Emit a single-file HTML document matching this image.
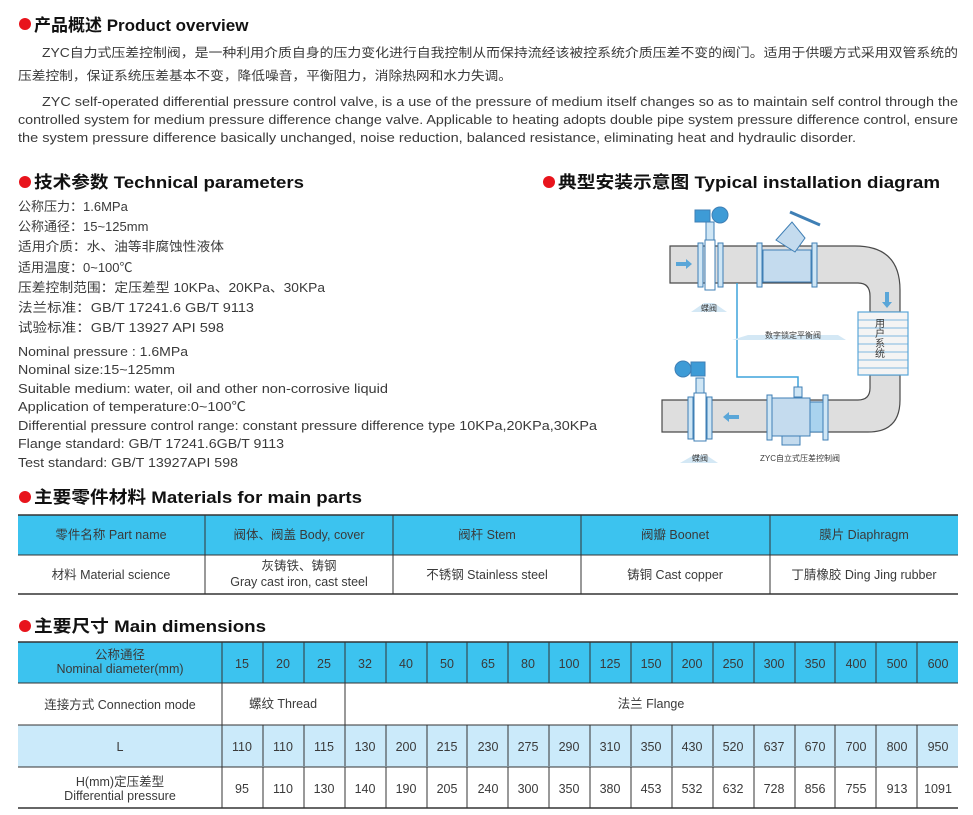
<!DOCTYPE html>
<html><head><meta charset="utf-8"><style>
html,body{margin:0;padding:0;background:#fff;}
svg{display:block;}
text{font-family:"Liberation Sans","Noto Sans CJK SC",sans-serif;fill:#3a3a3a;}
.h{font-weight:bold;font-size:17px;fill:#111;}
.p{font-size:12.5px;}
.t{font-size:13px;}
.c{font-size:12.5px;text-anchor:middle;}
</style></head><body>
<svg width="973" height="815" viewBox="0 0 973 815" xmlns="http://www.w3.org/2000/svg">
<!-- headings -->
<circle cx="25" cy="24" r="6" fill="#e8141c"/>
<text class="h" x="34" y="31">产品概述 Product overview</text>
<text class="p" x="42" y="57" textLength="916" lengthAdjust="spacingAndGlyphs">ZYC自力式压差控制阀，是一种利用介质自身的压力变化进行自我控制从而保持流经该被控系统介质压差不变的阀门。适用于供暖方式采用双管系统的</text>
<text class="p" x="18" y="80" textLength="494" lengthAdjust="spacingAndGlyphs">压差控制，保证系统压差基本不变，降低噪音，平衡阻力，消除热网和水力失调。</text>
<text class="p" x="42" y="106" textLength="916" lengthAdjust="spacingAndGlyphs">ZYC self-operated differential pressure control valve, is a use of the pressure of medium itself changes so as to maintain self control through the</text>
<text class="p" x="18" y="124" textLength="940" lengthAdjust="spacingAndGlyphs">controlled system for medium pressure difference change valve. Applicable to heating adopts double pipe system pressure difference control, ensure</text>
<text class="p" x="18" y="142" textLength="838" lengthAdjust="spacingAndGlyphs">the system pressure difference basically unchanged, noise reduction, balanced resistance, eliminating heat and hydraulic disorder.</text>

<circle cx="25" cy="182" r="6" fill="#e8141c"/>
<text class="h" x="34" y="188" textLength="270" lengthAdjust="spacingAndGlyphs">技术参数 Technical parameters</text>
<circle cx="549" cy="182" r="6" fill="#e8141c"/>
<text class="h" x="558" y="188" textLength="382" lengthAdjust="spacingAndGlyphs">典型安装示意图 Typical installation diagram</text>

<g class="t">
<text class="t" x="18" y="211">公称压力：1.6MPa</text>
<text class="t" x="18" y="231">公称通径：15~125mm</text>
<text class="t" x="18" y="251" textLength="206" lengthAdjust="spacingAndGlyphs">适用介质：水、油等非腐蚀性液体</text>
<text class="t" x="18" y="272">适用温度：0~100℃</text>
<text class="t" x="18" y="292" textLength="307" lengthAdjust="spacingAndGlyphs">压差控制范围：定压差型  10KPa、20KPa、30KPa</text>
<text class="t" x="18" y="312" textLength="236" lengthAdjust="spacingAndGlyphs">法兰标准：GB/T 17241.6    GB/T 9113</text>
<text class="t" x="18" y="332" textLength="206" lengthAdjust="spacingAndGlyphs">试验标准：GB/T 13927    API 598</text>
<text class="t" x="18" y="356" textLength="170" lengthAdjust="spacingAndGlyphs">Nominal pressure : 1.6MPa</text>
<text class="t" x="18" y="374" textLength="157" lengthAdjust="spacingAndGlyphs">Nominal size:15~125mm</text>
<text class="t" x="18" y="393" textLength="370" lengthAdjust="spacingAndGlyphs">Suitable medium: water, oil and other non-corrosive liquid</text>
<text class="t" x="18" y="411" textLength="228" lengthAdjust="spacingAndGlyphs">Application of temperature:0~100℃</text>
<text class="t" x="18" y="430" textLength="579" lengthAdjust="spacingAndGlyphs">Differential pressure control range: constant pressure difference type 10KPa,20KPa,30KPa</text>
<text class="t" x="18" y="448" textLength="266" lengthAdjust="spacingAndGlyphs">Flange standard: GB/T 17241.6GB/T 9113</text>
<text class="t" x="18" y="467" textLength="220" lengthAdjust="spacingAndGlyphs">Test standard: GB/T 13927API 598</text>
</g>

<!-- diagram -->
<g stroke="#4a4a4a" stroke-width="1.2">
<path d="M670 246 H855 Q900 246 900 290 V312 H870 V296 Q870 283 858 283 H670 Z" fill="#dedede"/>
<path d="M870 375 H900 V400 Q900 432 868 432 H662 V400 H858 Q870 400 870 388 Z" fill="#dedede"/>
<rect x="858" y="312" width="50" height="63" fill="#f4f4f4" stroke="#5aa6d8"/>
</g>
<g stroke="#5aa6d8" stroke-width="0.8">
<line x1="858" y1="320" x2="908" y2="320"/><line x1="858" y1="328" x2="908" y2="328"/>
<line x1="858" y1="336" x2="908" y2="336"/><line x1="858" y1="344" x2="908" y2="344"/>
<line x1="858" y1="352" x2="908" y2="352"/><line x1="858" y1="360" x2="908" y2="360"/>
<line x1="858" y1="368" x2="908" y2="368"/>
</g>
<text x="878" y="318" font-size="10" style="writing-mode:tb" fill="#333">用户系统</text>
<path d="M737 283 V377 H798 V396" fill="none" stroke="#3fa3dc" stroke-width="1.5"/>
<!-- top butterfly -->
<g fill="#cfe6f5" stroke="#3f7fb5">
<rect x="698" y="243" width="5" height="44"/><rect x="718" y="243" width="5" height="44"/>
<rect x="705" y="240" width="10" height="50" fill="#fff"/>
<rect x="706" y="222" width="8" height="18"/>
<rect x="695" y="210" width="15" height="12" fill="#3e9bd6"/>
<circle cx="720" cy="215" r="8" fill="#3e9bd6"/>
<!-- balancing valve -->
<rect x="757" y="243" width="5" height="44"/><rect x="812" y="243" width="5" height="44"/>
<path d="M763 250 H811 V282 H763 Z" fill="#c4dbee"/>
<path d="M776 240 L792 222 L805 238 L795 252 Z" fill="#c4dbee"/>
<line x1="790" y1="212" x2="820" y2="225" stroke-width="3"/>
<!-- bottom butterfly -->
<rect x="688" y="397" width="5" height="42"/><rect x="707" y="397" width="5" height="42"/>
<rect x="694" y="393" width="12" height="48" fill="#fff"/>
<rect x="696" y="378" width="8" height="15"/>
<circle cx="683" cy="369" r="8" fill="#3e9bd6"/>
<rect x="691" y="362" width="14" height="14" fill="#3e9bd6"/>
<!-- ZYC valve -->
<rect x="767" y="395" width="5" height="45"/><rect x="823" y="395" width="5" height="45"/>
<rect x="772" y="398" width="38" height="38" fill="#c4dbee"/>
<rect x="810" y="402" width="13" height="30" fill="#a9d3ee"/>
<rect x="782" y="436" width="18" height="9" fill="#c4dbee"/>
<rect x="794" y="387" width="8" height="10"/>
</g>
<path d="M676 262 h10 v-3 l6 5 l-6 5 v-3 h-10z" fill="#5aa6d8"/>
<path d="M885 292 v10 h-3 l5 6 l5 -6 h-3 v-10z" fill="#5aa6d8"/>
<path d="M739 415 h-10 v-3 l-6 5 l6 5 v-3 h10z" fill="#5aa6d8"/>
<g fill="#d4e8f5"><path d="M691 312 L704 303 H714 L727 312 Z"/><path d="M732 340 L748 335 H838 L846 340 Z"/><path d="M680 463 L694 455 H706 L718 463 Z"/></g>
<text x="709" y="311" font-size="8" text-anchor="middle" fill="#444">蝶阀</text>
<text x="793" y="338" font-size="8" text-anchor="middle" fill="#444">数字锁定平衡阀</text>
<text x="700" y="461" font-size="8" text-anchor="middle" fill="#444">蝶阀</text>
<text x="800" y="461" font-size="8" text-anchor="middle" fill="#444">ZYC自立式压差控制阀</text>

<!-- materials -->
<circle cx="25" cy="497" r="6" fill="#e8141c"/>
<text class="h" x="34" y="503" textLength="328" lengthAdjust="spacingAndGlyphs">主要零件材料 Materials for main parts</text>
<rect x="18" y="515" width="940" height="40" fill="#3cc3ef"/>
<g stroke="#333" stroke-width="1">
<line x1="18" y1="515" x2="958" y2="515" stroke-width="1.5"/>
<line x1="18" y1="555" x2="958" y2="555"/>
<line x1="18" y1="594" x2="958" y2="594" stroke-width="1.5"/>
<line x1="205" y1="515" x2="205" y2="594"/><line x1="393" y1="515" x2="393" y2="594"/>
<line x1="581" y1="515" x2="581" y2="594"/><line x1="770" y1="515" x2="770" y2="594"/>
</g>
<text class="c" x="111" y="539">零件名称 Part name</text>
<text class="c" x="299" y="539">阀体、阀盖 Body, cover</text>
<text class="c" x="487" y="539">阀杆 Stem</text>
<text class="c" x="675" y="539">阀瓣 Boonet</text>
<text class="c" x="864" y="539">膜片 Diaphragm</text>
<text class="c" x="111" y="579">材料 Material science</text>
<text class="c" x="299" y="570">灰铸铁、铸钢</text>
<text class="c" x="299" y="586">Gray cast iron, cast steel</text>
<text class="c" x="487" y="579">不锈钢 Stainless steel</text>
<text class="c" x="675" y="579">铸铜 Cast copper</text>
<text class="c" x="864" y="579">丁腈橡胶 Ding Jing rubber</text>

<!-- dimensions -->
<circle cx="25" cy="626" r="6" fill="#e8141c"/>
<text class="h" x="34" y="632" textLength="232" lengthAdjust="spacingAndGlyphs">主要尺寸 Main dimensions</text>
<rect x="18" y="642" width="940" height="41" fill="#3cc3ef"/>
<rect x="18" y="725" width="940" height="42" fill="#cbeafa"/>
<g stroke="#333" stroke-width="1">
<line x1="18" y1="642" x2="958" y2="642" stroke-width="1.5"/>
<line x1="18" y1="683" x2="958" y2="683"/>
<line x1="18" y1="725" x2="958" y2="725"/>
<line x1="18" y1="767" x2="958" y2="767"/>
<line x1="18" y1="808" x2="958" y2="808" stroke-width="1.5"/>
<line x1="222" y1="642" x2="222" y2="808"/>
<line x1="345" y1="683" x2="345" y2="725"/>
</g>
<g stroke="#333" stroke-width="1" id="vl">
<line x1="263" y1="642" x2="263" y2="683"/><line x1="304" y1="642" x2="304" y2="683"/><line x1="345" y1="642" x2="345" y2="683"/>
<line x1="386" y1="642" x2="386" y2="683"/><line x1="427" y1="642" x2="427" y2="683"/><line x1="467" y1="642" x2="467" y2="683"/>
<line x1="508" y1="642" x2="508" y2="683"/><line x1="549" y1="642" x2="549" y2="683"/><line x1="590" y1="642" x2="590" y2="683"/>
<line x1="631" y1="642" x2="631" y2="683"/><line x1="672" y1="642" x2="672" y2="683"/><line x1="713" y1="642" x2="713" y2="683"/>
<line x1="754" y1="642" x2="754" y2="683"/><line x1="795" y1="642" x2="795" y2="683"/><line x1="835" y1="642" x2="835" y2="683"/>
<line x1="876" y1="642" x2="876" y2="683"/><line x1="917" y1="642" x2="917" y2="683"/>
</g>
<use href="#vl" y="83"/>
<use href="#vl" y="125"/>
<text class="c" x="120" y="659">公称通径</text>
<text class="c" x="120" y="673">Nominal diameter(mm)</text>
<text class="c" x="120" y="709">连接方式 Connection mode</text>
<text class="c" x="283" y="708">螺纹 Thread</text>
<text class="c" x="651" y="708">法兰 Flange</text>
<text class="c" x="120" y="751">L</text>
<text class="c" x="120" y="786">H(mm)定压差型</text>
<text class="c" x="120" y="800">Differential pressure</text>
<g class="c">
<text class="c" x="242" y="668">15</text><text class="c" x="283" y="668">20</text><text class="c" x="324" y="668">25</text><text class="c" x="365" y="668">32</text><text class="c" x="406" y="668">40</text><text class="c" x="447" y="668">50</text><text class="c" x="488" y="668">65</text><text class="c" x="528" y="668">80</text><text class="c" x="569" y="668">100</text><text class="c" x="610" y="668">125</text><text class="c" x="651" y="668">150</text><text class="c" x="692" y="668">200</text><text class="c" x="733" y="668">250</text><text class="c" x="774" y="668">300</text><text class="c" x="815" y="668">350</text><text class="c" x="856" y="668">400</text><text class="c" x="897" y="668">500</text><text class="c" x="938" y="668">600</text>
<text class="c" x="242" y="751">110</text><text class="c" x="283" y="751">110</text><text class="c" x="324" y="751">115</text><text class="c" x="365" y="751">130</text><text class="c" x="406" y="751">200</text><text class="c" x="447" y="751">215</text><text class="c" x="488" y="751">230</text><text class="c" x="528" y="751">275</text><text class="c" x="569" y="751">290</text><text class="c" x="610" y="751">310</text><text class="c" x="651" y="751">350</text><text class="c" x="692" y="751">430</text><text class="c" x="733" y="751">520</text><text class="c" x="774" y="751">637</text><text class="c" x="815" y="751">670</text><text class="c" x="856" y="751">700</text><text class="c" x="897" y="751">800</text><text class="c" x="938" y="751">950</text>
<text class="c" x="242" y="793">95</text><text class="c" x="283" y="793">110</text><text class="c" x="324" y="793">130</text><text class="c" x="365" y="793">140</text><text class="c" x="406" y="793">190</text><text class="c" x="447" y="793">205</text><text class="c" x="488" y="793">240</text><text class="c" x="528" y="793">300</text><text class="c" x="569" y="793">350</text><text class="c" x="610" y="793">380</text><text class="c" x="651" y="793">453</text><text class="c" x="692" y="793">532</text><text class="c" x="733" y="793">632</text><text class="c" x="774" y="793">728</text><text class="c" x="815" y="793">856</text><text class="c" x="856" y="793">755</text><text class="c" x="897" y="793">913</text><text class="c" x="938" y="793">1091</text>
</g>
</svg>
</body></html>
